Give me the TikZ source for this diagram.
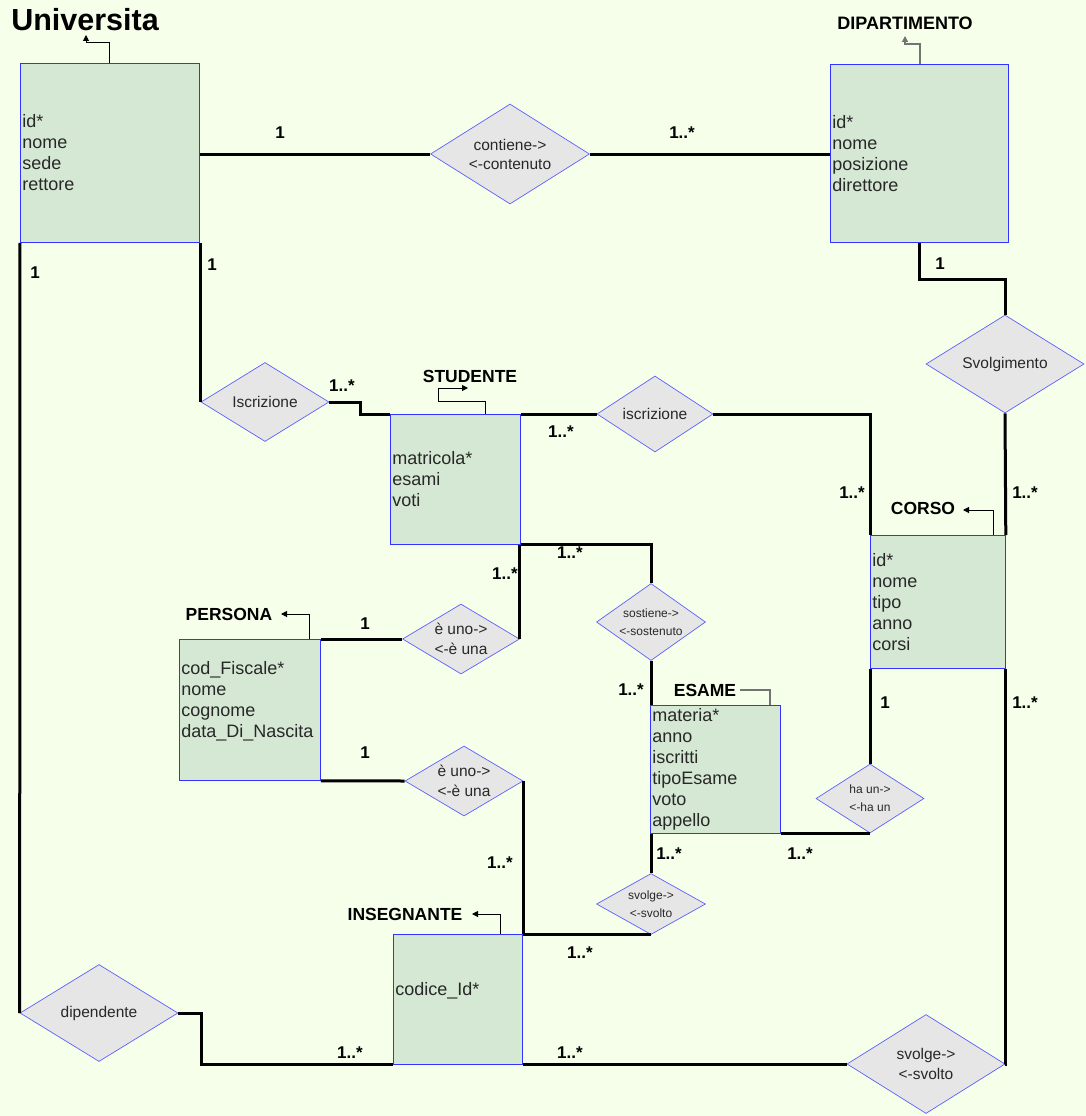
\documentclass[tikz,border=0pt]{standalone}
\usepackage{fontspec}
\setmainfont{Liberation Sans}
\usetikzlibrary{shapes.geometric,arrows.meta,calc}
\definecolor{bg}{RGB}{246,255,234}
\definecolor{entfill}{RGB}{213,232,212}
\definecolor{entblue}{RGB}{51,51,255}
\definecolor{relfill}{RGB}{230,230,230}
\definecolor{relblue}{RGB}{95,95,255}
\definecolor{txtgray}{RGB}{40,40,40}
\newcommand{\fsz}[2]{\fontsize{#1}{#2}\selectfont}
\begin{document}
\begin{tikzpicture}[x=1pt,y=-1pt,
  entity/.style={draw=entblue, fill=entfill, line width=0.8pt, inner xsep=2pt, inner ysep=0pt,
    align=left, anchor=north west, text=txtgray, font=\fsz{18}{21}},
  relation/.style={diamond, draw=relblue, fill=relfill, line width=0.7pt, inner sep=-6pt,
    shape aspect=1.6, align=center, text=txtgray},
  bigrel/.style={relation, font=\fsz{15.5}{19}},
  smallrel/.style={relation, font=\fsz{12}{18}},
  conn/.style={line width=3pt},
  card/.style={font=\bfseries\fsz{17}{20}, inner sep=0pt},
  etitle/.style={font=\bfseries\fsz{17.5}{20}, inner sep=0pt},
  tarrow/.style={line width=1pt, -{Triangle[length=6pt,width=6pt]}},
  tline/.style={line width=1.2pt, draw=black!55}]

\fill[bg] (0,0) rectangle (1086,1116);
\useasboundingbox (0,0) rectangle (1086,1116);

% entities
\node[entity, minimum width=179pt, minimum height=179pt, text width=175pt] (uni) at (20,63) {id*\\nome\\sede\\rettore};
\node[entity, minimum width=178pt, minimum height=178pt, text width=174pt] (dip) at (830,64) {id*\\nome\\posizione\\direttore};
\node[entity, minimum width=130pt, minimum height=130pt, text width=126pt] (stu) at (390,414) {matricola*\\esami\\voti};
\node[entity, minimum width=135pt, minimum height=133pt, text width=131pt] (corso) at (870,535) {id*\\nome\\tipo\\anno\\corsi};
\node[entity, minimum width=141pt, minimum height=141pt, text width=137pt] (pers) at (179,639) {cod\_Fiscale*\\nome\\cognome\\data\_Di\_Nascita\\~};
\node[entity, minimum width=130pt, minimum height=128pt, text width=126pt] (esame) at (650,705) {materia*\\anno\\iscritti\\tipoEsame\\voto\\appello};
\node[entity, minimum width=129pt, minimum height=130pt, text width=125pt] (ins) at (393,934) {codice\_Id*\\~};

% entity titles
\node[font=\bfseries\fsz{30.5}{34}, inner sep=0pt] (tuni) at (85,20) {Universita};
\node[etitle, font=\bfseries\fsz{18}{20}] (tdip) at (905,23) {DIPARTIMENTO};
\node[etitle] (tstu) at (470,376) {STUDENTE};
\node[etitle] (tcorso) at (923,508) {CORSO};
\node[etitle] (tpers) at (229,614) {PERSONA};
\node[etitle] (tesame) at (705,690) {ESAME};
\node[etitle] (tins) at (405,914) {INSEGNANTE};

% small title pointers
\draw[tarrow] ($(uni.north west)+(89,0)$) -- ++(0,-20) -- ++(-23,0) -- ++(0,-8);
\draw[tline, -{Triangle[length=6pt,width=6pt]}] ($(dip.north west)+(90,0)$) -- ++(0,-20) -- ++(-15,0) -- ++(0,-8);
\draw[tarrow] ($(stu.north west)+(95,0)$) -- ++(0,-13) -- ++(-47,0) -- ++(0,-13) -- ++(30,0);
\draw[tarrow] ($(corso.north west)+(123,0)$) -- ++(0,-25) -- ++(-30,0);
\draw[tarrow] ($(pers.north west)+(130,0)$) -- ++(0,-25) -- ++(-28,0);
\draw[tline] ($(esame.north west)+(120,0)$) -- ++(0,-15) -- ++(-30,0);
\draw[tarrow] ($(ins.north west)+(107,0)$) -- ++(0,-20) -- ++(-28,0);

% relationships
\node[bigrel, minimum width=159pt, minimum height=100pt] (cont) at (510,154) {contiene->\\<-contenuto};
\node[bigrel, minimum width=158pt, minimum height=98pt] (svolg) at (1005,364) {Svolgimento};
\node[bigrel, minimum width=128pt, minimum height=79pt] (iscrL) at (265,402) {Iscrizione};
\node[bigrel, minimum width=116pt, minimum height=76pt] (iscrR) at (655,414) {iscrizione};
\node[bigrel, minimum width=117pt, minimum height=70pt, font=\fsz{15.5}{20}] (isaP) at (461,639) {è uno->\\<-è una};
\node[bigrel, minimum width=118pt, minimum height=70pt, font=\fsz{15.5}{20}] (isaI) at (464,781) {è uno->\\<-è una};
\node[smallrel, minimum width=109pt, minimum height=77pt] (sost) at (651,622) {sostiene->\\<-sostenuto};
\node[smallrel, minimum width=108pt, minimum height=69pt] (haun) at (870,798.5) {ha un->\\<-ha un};
\node[smallrel, minimum width=109pt, minimum height=61pt] (svolS) at (651,904) {svolge->\\<-svolto};
\node[bigrel, minimum width=158pt, minimum height=99pt, font=\fsz{15.5}{20}] (svolL) at (926,1064) {svolge->\\<-svolto};
\node[bigrel, minimum width=158pt, minimum height=97pt] (dipend) at (99,1013) {dipendente};

% connectors
\draw[conn] (cont.west -| uni.east) -- (cont.west);
\draw[conn] (cont.east) -- (cont.east -| dip.west);
\draw[conn] (dip.south) -- ++(0,37) -| (svolg.north);
\draw[conn] (svolg.south) -- (corso.north east);
\draw[conn] (uni.south west) -- (dipend.west);
\draw[conn] (iscrL.west |- uni.south) -- (iscrL.west);
\draw[conn] (iscrL.east) -- ++(31,0) |- (stu.north west);
\draw[conn] (stu.north east) -- (iscrR.west);
\draw[conn] (iscrR.east) -| (corso.north west);
\draw[conn] (dipend.east) -- ++(23,0) |- (ins.south west);
\draw[conn] (pers.north east) -- (isaP.west);
\draw[conn] (isaP.east) -- (isaP.east |- stu.south);
\draw[conn] (pers.south east) -- (isaI.west);
\draw[conn] (isaI.east) -- (isaI.east |- ins.north);
\draw[conn] (stu.south east) -| (sost.north);
\draw[conn] (sost.south) -- (sost.south |- esame.north);
\draw[conn] (corso.south west) -- (haun.north);
\draw[conn] (haun.south) -- (haun.south -| esame.east);
\draw[conn] (svolS.north |- esame.south) -- (svolS.north);
\draw[conn] (svolS.south) -- (svolS.south -| ins.east);
\draw[conn] (corso.south east) |- (svolL.east);
\draw[conn] (svolL.west) -- (svolL.west -| ins.east);

% cardinalities
\node[card] (k1) at (280,133) {1};
\node[card] (k2) at (682,133) {1..*};
\node[card] (k3) at (940,264) {1};
\node[card] (k4) at (1025,493) {1..*};
\node[card] (k5) at (35,273) {1};
\node[card] (k6) at (212,265) {1};
\node[card] (k7) at (342,386) {1..*};
\node[card] (k8) at (561,432) {1..*};
\node[card] (k9) at (852,493) {1..*};
\node[card] (k10) at (505,574) {1..*};
\node[card] (k11) at (570,553) {1..*};
\node[card] (k12) at (365,624) {1};
\node[card] (k13) at (365,753) {1};
\node[card] (k14) at (631,690) {1..*};
\node[card] (k15) at (885,703) {1};
\node[card] (k16) at (1025,703) {1..*};
\node[card] (k17) at (500,863) {1..*};
\node[card] (k18) at (669,854) {1..*};
\node[card] (k19) at (800,854) {1..*};
\node[card] (k20) at (580,953) {1..*};
\node[card] (k21) at (350,1053) {1..*};
\node[card] (k22) at (570,1053) {1..*};
\end{tikzpicture}
\end{document}
